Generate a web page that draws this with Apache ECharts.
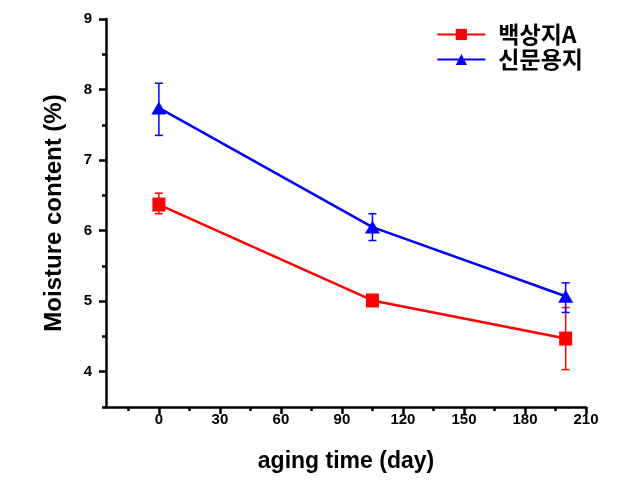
<!DOCTYPE html>
<html><head><meta charset="utf-8">
<script src="https://cdn.jsdelivr.net/npm/echarts@6/dist/echarts.min.js"></script>
<style>html,body{margin:0;padding:0;background:#fff}#c{width:629px;height:489px}</style>
</head><body><div id="c"></div>
<script>
const days = [0, 105, 200];
const nameA = '백상지A';
const nameB = '신문용지';
const valA = [6.37, 5.01, 4.47];
const errLowA = [6.24, 4.98, 4.03];
const errHighA = [6.53, 5.04, 4.91];
const valB = [7.74, 6.05, 5.07];
const errLowB = [7.35, 5.86, 4.84];
const errHighB = [8.09, 6.24, 5.26];
const xMajor = [0, 30, 60, 90, 120, 150, 180, 210];
const xMinor = [-15, 15, 45, 75, 105, 135, 165, 195];
const yMajor = [4, 5, 6, 7, 8, 9];
const yMinor = [3.5, 4.5, 5.5, 6.5, 7.5, 8.5];

const chart = echarts.init(document.getElementById('c'));
const font = 'Liberation Sans, Arial, sans-serif';
const grid = {left: 106, right: 43, top: 19, bottom: 82};

function errSeries(low, high, color) {
  return {
    type: 'custom', xAxisIndex: 0, yAxisIndex: 0, z: 3,
    data: days.map((d, i) => [d, low[i], high[i]]),
    renderItem: function (params, api) {
      const x = api.value(0);
      const lo = api.coord([x, api.value(1)]);
      const hi = api.coord([x, api.value(2)]);
      const w = 4;
      const st = {stroke: color, lineWidth: 1.5};
      return {type: 'group', children: [
        {type: 'line', shape: {x1: lo[0], y1: lo[1], x2: hi[0], y2: hi[1]}, style: st},
        {type: 'line', shape: {x1: lo[0]-w, y1: lo[1], x2: lo[0]+w, y2: lo[1]}, style: st},
        {type: 'line', shape: {x1: hi[0]-w, y1: hi[1], x2: hi[0]+w, y2: hi[1]}, style: st}
      ]};
    }
  };
}

chart.setOption({
  animation: false,
  grid: grid,
  legend: {
    right: 46, top: 23, orient: 'vertical', itemWidth: 48, itemHeight: 14, itemGap: 2, padding: 0,
    textStyle: {fontFamily: 'Noto Sans CJK KR', fontWeight: 'bold', fontSize: 23, lineHeight: 19, color: '#000', padding: [0, 0, 0, 8]},
    data: [nameA, nameB]
  },
  xAxis: [{
    type: 'value', min: -26, max: 210,
    name: 'aging time (day)', nameLocation: 'middle', nameGap: 43,
    nameTextStyle: {fontFamily: font, fontWeight: 'bold', fontSize: 23, color: '#000'},
    axisLine: {show: true, onZero: false, lineStyle: {color: '#000', width: 2.5}},
    axisTick: {show: true, inside: false, length: 7, lineStyle: {width: 2.5, color: '#000'}, customValues: xMajor},
    axisLabel: {customValues: xMajor, fontFamily: font, fontWeight: 'bold', fontSize: 15, color: '#000', margin: 5},
    splitLine: {show: false}
  }, {
    type: 'value', min: -26, max: 210, position: 'bottom',
    axisLine: {show: false, onZero: false},
    axisTick: {show: true, length: 4, lineStyle: {width: 2.5, color: '#000'}, customValues: xMinor},
    axisLabel: {show: false, customValues: xMinor},
    splitLine: {show: false}
  }],
  yAxis: [{
    type: 'value', min: 3.5, max: 9,
    name: 'Moisture content (%)', nameLocation: 'middle', nameGap: 40,
    nameTextStyle: {fontFamily: font, fontWeight: 'bold', fontSize: 24, color: '#000'},
    axisLine: {show: true, onZero: false, lineStyle: {color: '#000', width: 2.5}},
    axisTick: {show: true, length: 7, lineStyle: {width: 2.5, color: '#000'}, customValues: yMajor},
    axisLabel: {customValues: yMajor, fontFamily: font, fontWeight: 'bold', fontSize: 15, color: '#000', margin: 14},
    splitLine: {show: false}
  }, {
    type: 'value', min: 3.5, max: 9, position: 'left',
    axisLine: {show: false, onZero: false},
    axisTick: {show: true, length: 4, lineStyle: {width: 2.5, color: '#000'}, customValues: yMinor},
    axisLabel: {show: false, customValues: yMinor},
    splitLine: {show: false}
  }],
  series: [
    errSeries(errLowA, errHighA, '#ff0000'),
    errSeries(errLowB, errHighB, '#0000ff'),
    {name: nameA, type: 'line', z: 4, data: days.map((d, i) => [d, valA[i]]),
     symbol: 'rect', symbolSize: [13, 14], itemStyle: {color: '#ff0000'},
     lineStyle: {color: '#ff0000', width: 2.5}},
    {name: nameB, type: 'line', z: 4, data: days.map((d, i) => [d, valB[i]]),
     symbol: 'triangle', symbolSize: [15, 13], itemStyle: {color: '#0000ff'},
     lineStyle: {color: '#0000ff', width: 2.5}}
  ]
});
</script></body></html>
